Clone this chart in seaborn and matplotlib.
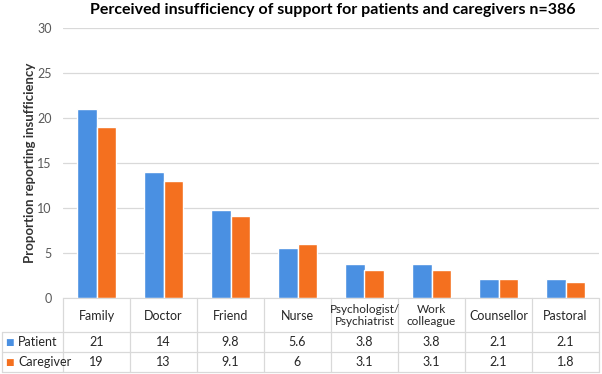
import numpy as np
import pandas as pd
import matplotlib
matplotlib.use("Agg")
import matplotlib.pyplot as plt
import seaborn as sns

# data
categories = ["Family", "Doctor", "Friend", "Nurse", "Psychologist/\nPsychiatrist",
              "Work\ncolleague", "Counsellor", "Pastoral"]
patient = [21, 14, 9.8, 5.6, 3.8, 3.8, 2.1, 2.1]
caregiver = [19, 13, 9.1, 6, 3.1, 3.1, 2.1, 1.8]
groups = ["Patient", "Caregiver"]
colors = ["#4A90E2", "#F4701F"]

df = pd.DataFrame({
    "category": categories * 2,
    "value": patient + caregiver,
    "group": ["Patient"] * len(patient) + ["Caregiver"] * len(caregiver),
})

sns.set_style("white")
plt.rcParams["font.family"] = ["Lato", "DejaVu Sans"]

W, H = 602, 374
fig = plt.figure(figsize=(W / 100, H / 100), dpi=100)
ax_top, ax_bot = 28, 298.3
ax = fig.add_axes([63 / W, (H - ax_bot) / H, 536 / W, (ax_bot - ax_top) / H])

sns.barplot(data=df, x="category", y="value", hue="group", order=categories,
            hue_order=groups, palette=colors, width=0.58, gap=0,
            saturation=1, legend=False, ax=ax)

ax.set_xlim(-0.5, len(categories) - 0.5)
ax.set_ylim(0, 30)
ax.set_yticks(range(0, 31, 5))
ax.set_xticks([])
ax.set_xlabel("")
ax.set_ylabel("")
ax.yaxis.grid(True, color="#D9D9D9", lw=0.9)
ax.set_axisbelow(True)
ax.tick_params(axis="y", length=0, pad=8, labelsize=9, labelcolor="#595959")
for s in ["left", "right", "top"]:
    ax.spines[s].set_visible(False)
ax.spines["bottom"].set_color("#D9D9D9")

fig.text(30 / W, 1 - 163 / H, "Proportion reporting insufficiency", rotation=90,
         ha="center", va="center", fontsize=9.5, fontweight="bold", color="#333333")

# data table under the axis
ph = ax_bot - ax_top
def yax(px):
    return (ax_bot - px) / ph

tr = ax.get_xaxis_transform()
lc = "#D9D9D9"
x_left = (2 - 63) / 67 - 0.5
n = len(categories)
row_lines = [332, 352, 372]
for px in row_lines:
    ax.plot([x_left, n - 0.5], [yax(px)] * 2, color=lc, lw=0.9, transform=tr, clip_on=False)
for i in range(n + 1):
    ax.plot([i - 0.5] * 2, [0, yax(372)], color=lc, lw=0.9, transform=tr, clip_on=False)
ax.plot([x_left] * 2, [yax(332), yax(372)], color=lc, lw=0.9, transform=tr, clip_on=False)

tkw = dict(transform=tr, ha="center", va="center", fontsize=9, color="#262626",
           clip_on=False)
for i, c in enumerate(categories):
    fs = 8.5 if "\n" in c else 9
    ax.text(i, yax(315.5), c, linespacing=1.2, **{**tkw, "fontsize": fs})
    ax.text(i, yax(342), f"{patient[i]:g}", **tkw)
    ax.text(i, yax(362), f"{caregiver[i]:g}", **tkw)

for g, col, py in zip(groups, colors, [342, 362]):
    ax.text(x_left + 3 / 67, yax(py), "\u25A0", transform=tr, ha="left", va="center",
            fontsize=6.5, color=col, family="DejaVu Sans", clip_on=False)
    ax.text(x_left + 16 / 67, yax(py), g, transform=tr, ha="left", va="center",
            fontsize=9, color="#262626", clip_on=False)

fig.text(333 / W, 1 - 10 / H, "Perceived insufficiency of support for patients and caregivers n=386",
         ha="center", va="center", fontsize=11.5, fontweight="bold", color="#000000")

fig.savefig("out.png", dpi=100)
